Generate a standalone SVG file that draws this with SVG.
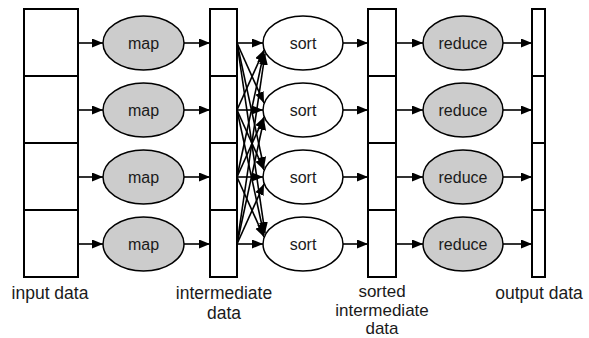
<svg xmlns="http://www.w3.org/2000/svg" width="589" height="338" viewBox="0 0 589 338">
<defs>
<marker id="ah" markerUnits="userSpaceOnUse" markerWidth="12" markerHeight="10" refX="11" refY="4.5" orient="auto">
<path d="M0,0 L11,4.5 L0,9 z" fill="#000"/>
</marker>
<style>
.box{fill:#fff;stroke:#000;stroke-width:2}
.div{stroke:#000;stroke-width:2}
.g{fill:#cccccc;stroke:#000;stroke-width:1.5}
.w{fill:#fff;stroke:#000;stroke-width:1.5}
.t{font-family:"Liberation Sans",Arial,sans-serif;font-size:16px;text-anchor:middle;fill:#1a1a1a}
.l{font-family:"Liberation Sans",Arial,sans-serif;font-size:17.5px;text-anchor:middle;fill:#1a1a1a}
.s{font-size:17px}
.c{stroke:#000;stroke-width:1.6;fill:none;marker-end:url(#ah)}
</style>
</defs>
<rect width="589" height="338" fill="#fff"/>
<g id="input">
<rect class="box" x="24" y="9" width="54" height="268"/>
<line class="div" x1="24" y1="76" x2="78" y2="76"/>
<line class="div" x1="24" y1="143" x2="78" y2="143"/>
<line class="div" x1="24" y1="210" x2="78" y2="210"/>
<text class="l" x="50" y="299">input data</text>
</g>
<g id="intermediate">
<rect class="box" x="210" y="9" width="27" height="268"/>
<line class="div" x1="210" y1="76" x2="237" y2="76"/>
<line class="div" x1="210" y1="143" x2="237" y2="143"/>
<line class="div" x1="210" y1="210" x2="237" y2="210"/>
<text class="l" x="224" y="299">intermediate</text>
<text class="l" x="224" y="318.5">data</text>
</g>
<g id="sorted">
<rect class="box" x="368" y="9" width="28" height="268"/>
<line class="div" x1="368" y1="76" x2="396" y2="76"/>
<line class="div" x1="368" y1="143" x2="396" y2="143"/>
<line class="div" x1="368" y1="210" x2="396" y2="210"/>
<text class="l s" x="382" y="296.5">sorted</text>
<text class="l s" x="382" y="315.5">intermediate</text>
<text class="l s" x="382" y="334.3">data</text>
</g>
<g id="output">
<rect class="box" x="532" y="9" width="13" height="268"/>
<line class="div" x1="532" y1="76" x2="545" y2="76"/>
<line class="div" x1="532" y1="143" x2="545" y2="143"/>
<line class="div" x1="532" y1="210" x2="545" y2="210"/>
<text class="l" x="539" y="299">output data</text>
</g>
<g id="map1"><ellipse class="g" cx="143.5" cy="43" rx="40.5" ry="27"/><text class="t" x="143.5" y="48.5">map</text></g>
<g id="map2"><ellipse class="g" cx="143.5" cy="110" rx="40.5" ry="27"/><text class="t" x="143.5" y="115.5">map</text></g>
<g id="map3"><ellipse class="g" cx="143.5" cy="177" rx="40.5" ry="27"/><text class="t" x="143.5" y="182.5">map</text></g>
<g id="map4"><ellipse class="g" cx="143.5" cy="244" rx="40.5" ry="27"/><text class="t" x="143.5" y="249.5">map</text></g>
<g id="sort1"><ellipse class="w" cx="303" cy="43" rx="40" ry="27"/><text class="t" x="303" y="48.5">sort</text></g>
<g id="sort2"><ellipse class="w" cx="303" cy="110" rx="40" ry="27"/><text class="t" x="303" y="115.5">sort</text></g>
<g id="sort3"><ellipse class="w" cx="303" cy="177" rx="40" ry="27"/><text class="t" x="303" y="182.5">sort</text></g>
<g id="sort4"><ellipse class="w" cx="303" cy="244" rx="40" ry="27"/><text class="t" x="303" y="249.5">sort</text></g>
<g id="reduce1"><ellipse class="g" cx="463" cy="43" rx="40" ry="27"/><text class="t" x="463" y="48.5">reduce</text></g>
<g id="reduce2"><ellipse class="g" cx="463" cy="110" rx="40" ry="27"/><text class="t" x="463" y="115.5">reduce</text></g>
<g id="reduce3"><ellipse class="g" cx="463" cy="177" rx="40" ry="27"/><text class="t" x="463" y="182.5">reduce</text></g>
<g id="reduce4"><ellipse class="g" cx="463" cy="244" rx="40" ry="27"/><text class="t" x="463" y="249.5">reduce</text></g>
<g id="connectors">
<line class="c" x1="78" y1="43" x2="103" y2="43"/>
<line class="c" x1="78" y1="110" x2="103" y2="110"/>
<line class="c" x1="78" y1="177" x2="103" y2="177"/>
<line class="c" x1="78" y1="244" x2="103" y2="244"/>
<line class="c" x1="184" y1="43" x2="210" y2="43"/>
<line class="c" x1="184" y1="110" x2="210" y2="110"/>
<line class="c" x1="184" y1="177" x2="210" y2="177"/>
<line class="c" x1="184" y1="244" x2="210" y2="244"/>
<line class="c" x1="237" y1="43" x2="263" y2="43"/>
<line class="c" x1="237" y1="110" x2="263" y2="110"/>
<line class="c" x1="237" y1="177" x2="263" y2="177"/>
<line class="c" x1="237" y1="244" x2="263" y2="244"/>
<line class="c" x1="237" y1="110" x2="264" y2="50"/>
<line class="c" x1="237" y1="177" x2="264" y2="52"/>
<line class="c" x1="237" y1="244" x2="265" y2="54"/>
<line class="c" x1="237" y1="43" x2="264" y2="103"/>
<line class="c" x1="237" y1="177" x2="264" y2="117"/>
<line class="c" x1="237" y1="244" x2="264" y2="119"/>
<line class="c" x1="237" y1="43" x2="264" y2="168"/>
<line class="c" x1="237" y1="110" x2="264" y2="170"/>
<line class="c" x1="237" y1="244" x2="264" y2="184"/>
<line class="c" x1="237" y1="43" x2="265" y2="233"/>
<line class="c" x1="237" y1="110" x2="264" y2="235"/>
<line class="c" x1="237" y1="177" x2="264" y2="237"/>
<line class="c" x1="343" y1="43" x2="368" y2="43"/>
<line class="c" x1="343" y1="110" x2="368" y2="110"/>
<line class="c" x1="343" y1="177" x2="368" y2="177"/>
<line class="c" x1="343" y1="244" x2="368" y2="244"/>
<line class="c" x1="396" y1="43" x2="423" y2="43"/>
<line class="c" x1="396" y1="110" x2="423" y2="110"/>
<line class="c" x1="396" y1="177" x2="423" y2="177"/>
<line class="c" x1="396" y1="244" x2="423" y2="244"/>
<line class="c" x1="503" y1="43" x2="532" y2="43"/>
<line class="c" x1="503" y1="110" x2="532" y2="110"/>
<line class="c" x1="503" y1="177" x2="532" y2="177"/>
<line class="c" x1="503" y1="244" x2="532" y2="244"/>
</g>
</svg>
